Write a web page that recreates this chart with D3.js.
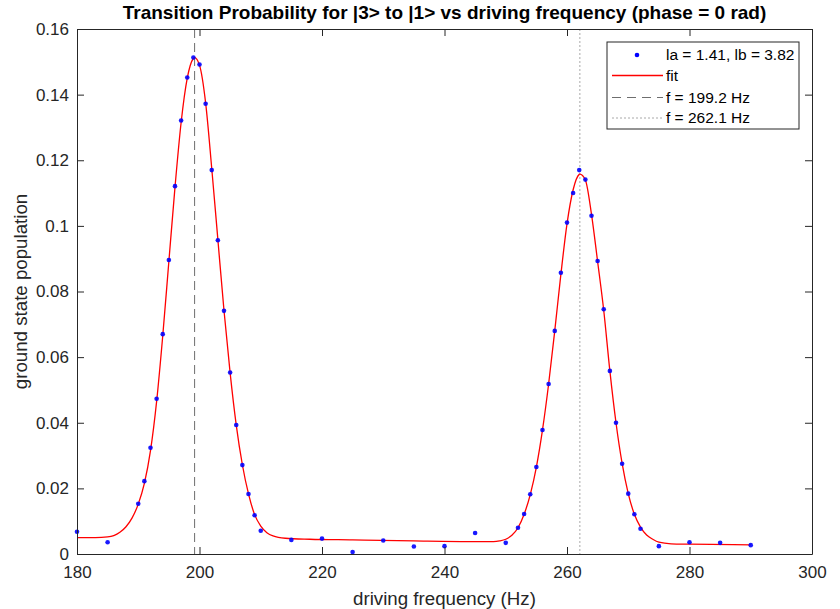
<!DOCTYPE html>
<html>
<head>
<meta charset="utf-8">
<script src="https://cdn.jsdelivr.net/npm/d3@7"></script>
<style>
  body { margin: 0; background: #fff; }
  text { font-family: "Liberation Sans", Arial, sans-serif; }
</style>
</head>
<body>
<svg id="chart" width="840" height="609"></svg>
<script>

// measured points
var freqs = [180, 185, 190, 191, 192, 193, 194, 195, 196, 197, 198, 199, 200, 201, 202, 203, 204, 205, 206, 207, 208, 209, 210,
             215, 220, 225, 230, 235, 240, 245, 250,
             252, 253, 254, 255, 256, 257, 258, 259, 260, 261, 262, 263, 264, 265, 266, 267, 268, 269, 270, 271, 272,
             275, 280, 285, 290];
var pops = [0.0068, 0.0036, 0.0153, 0.0222, 0.0324, 0.0473, 0.0670, 0.0896, 0.1121, 0.1321, 0.1452, 0.1513, 0.1492, 0.1372, 0.1170, 0.0956, 0.0741, 0.0553, 0.0393, 0.0271, 0.0183, 0.0118, 0.0071,
            0.0043, 0.0047, 0.0006, 0.0041, 0.0023, 0.0024, 0.0064, 0.0034,
            0.0080, 0.0122, 0.0182, 0.0265, 0.0378, 0.0518, 0.0680, 0.0857, 0.1010, 0.1100, 0.1170, 0.1141, 0.1031, 0.0893, 0.0746, 0.0558, 0.0400, 0.0275, 0.0184, 0.0121, 0.0077,
            0.0024, 0.0036, 0.0034, 0.0027];

// fit curve
var fitX = [180, 183, 185, 186, 187, 188, 189, 190, 191, 192, 193, 194, 195, 196, 197, 198, 199, 199.2, 200, 201, 202, 203, 204, 205, 206, 207, 208, 209, 210, 211, 212, 214, 218, 225, 235, 245, 248, 249, 250, 251, 252, 253, 254, 255, 256, 257, 258, 259, 260, 261, 262, 262.1, 263, 264, 265, 266, 267, 268, 269, 270, 271, 272, 273, 274, 275, 277, 280, 290];
var fitY = [0.0050, 0.0050, 0.0052, 0.0056, 0.0066, 0.0083, 0.0110, 0.0152, 0.0215, 0.0315, 0.0465, 0.0665, 0.0892, 0.1118, 0.1315, 0.1450, 0.1510, 0.1513, 0.1490, 0.1375, 0.1175, 0.0958, 0.0742, 0.0552, 0.0393, 0.0272, 0.0183, 0.0120, 0.0085, 0.0065, 0.0055, 0.0048, 0.0045, 0.0043, 0.0040, 0.0038, 0.0038, 0.0040, 0.0045, 0.0057, 0.0080, 0.0121, 0.0181, 0.0265, 0.0378, 0.0518, 0.0680, 0.0852, 0.1006, 0.1110, 0.1157, 0.1158, 0.1140, 0.1035, 0.0891, 0.0742, 0.0558, 0.0400, 0.0276, 0.0184, 0.0121, 0.0082, 0.0058, 0.0045, 0.0036, 0.0031, 0.0030, 0.0028];

var peakFreqs = [199.2, 262.1];
var xTicks = [180, 200, 220, 240, 260, 280, 300];
var yTicks = [0, 0.02, 0.04, 0.06, 0.08, 0.1, 0.12, 0.14, 0.16];
var legendLabels = ["la = 1.41, lb = 3.82", "fit", "f = 199.2 Hz", "f = 262.1 Hz"];

var pLeft = 77, pRight = 812, pTop = 29, pBottom = 554;
var axisCol = "#262626";

var svg = d3.select("#chart");

var x = d3.scaleLinear().domain([180, 300]).range([pLeft, pRight]);
var y = d3.scaleLinear().domain([0, 0.16]).range([pBottom, pTop]);

// vertical lines at resonances
svg.append("line")
    .attr("x1", x(peakFreqs[0])).attr("x2", x(peakFreqs[0]))
    .attr("y1", pTop).attr("y2", pBottom)
    .attr("stroke", "#6e6e6e").attr("stroke-width", 1)
    .attr("stroke-dasharray", "9,5");
svg.append("line")
    .attr("x1", x(peakFreqs[1])).attr("x2", x(peakFreqs[1]))
    .attr("y1", pTop).attr("y2", pBottom)
    .attr("stroke", "#a8a8a8").attr("stroke-width", 1)
    .attr("stroke-dasharray", "2,2");

// fit
var fitData = fitX.map(function(d, i) { return [d, fitY[i]]; });
var line = d3.line()
    .x(function(d) { return x(d[0]); })
    .y(function(d) { return y(d[1]); })
    .curve(d3.curveMonotoneX);
svg.append("path")
    .datum(fitData)
    .attr("d", line)
    .attr("fill", "none")
    .attr("stroke", "#ff0000")
    .attr("stroke-width", 1.3);

// points
svg.selectAll(".pt")
    .data(freqs)
  .enter().append("circle")
    .attr("class", "pt")
    .attr("cx", function(d) { return x(d); })
    .attr("cy", function(d, i) { return y(pops[i]); })
    .attr("r", 2.3)
    .attr("fill", "#0000ff")
    .attr("fill-opacity", 0.9);

// axes, matlab style: ticks inside, box all round
var fmtY = function(d) { return d === 0 ? "0" : String(+d.toFixed(2)); };

function styleAxis(g) {
  g.select(".domain").attr("stroke", axisCol);
  g.selectAll(".tick line").attr("stroke", axisCol);
  g.selectAll(".tick text").attr("fill", axisCol).style("font-size", "17px")
    .style("font-family", "'Liberation Sans', Arial, sans-serif");
}

svg.append("g")
    .attr("transform", "translate(0," + pBottom + ")")
    .call(d3.axisBottom(x).tickValues(xTicks).tickSizeInner(-7).tickSizeOuter(0).tickPadding(12))
    .call(styleAxis);
svg.append("g")
    .attr("transform", "translate(0," + pTop + ")")
    .call(d3.axisTop(x).tickValues(xTicks).tickSizeInner(-7).tickSizeOuter(0).tickFormat(""))
    .call(styleAxis);
svg.append("g")
    .attr("transform", "translate(" + pLeft + ",0)")
    .call(d3.axisLeft(y).tickValues(yTicks).tickFormat(fmtY).tickSizeInner(-7).tickSizeOuter(0).tickPadding(8))
    .call(styleAxis);
svg.append("g")
    .attr("transform", "translate(" + pRight + ",0)")
    .call(d3.axisRight(y).tickValues(yTicks).tickSizeInner(-7).tickSizeOuter(0).tickFormat(""))
    .call(styleAxis);

// titles
svg.append("text")
    .attr("x", (pLeft + pRight) / 2).attr("y", 19)
    .attr("text-anchor", "middle")
    .style("font-size", "19px").style("font-weight", "bold")
    .attr("fill", "#000")
    .text("Transition Probability for |3> to |1> vs driving frequency (phase = 0 rad)");

svg.append("text")
    .attr("x", (pLeft + pRight) / 2).attr("y", 605)
    .attr("text-anchor", "middle")
    .style("font-size", "18.7px")
    .attr("fill", axisCol)
    .text("driving frequency (Hz)");

svg.append("text")
    .attr("transform", "translate(27," + ((pTop + pBottom) / 2) + ") rotate(-90)")
    .attr("text-anchor", "middle")
    .style("font-size", "18.7px")
    .attr("fill", axisCol)
    .text("ground state population");

// legend
var lg = svg.append("g").attr("transform", "translate(607,42)");
lg.append("rect")
    .attr("width", 192).attr("height", 87)
    .attr("fill", "#fff").attr("stroke", axisCol).attr("stroke-width", 1);

var rowY = [13, 33.5, 55.5, 76];
lg.append("circle").attr("cx", 30).attr("cy", rowY[0]).attr("r", 2.3).attr("fill", "#0000ff");
lg.append("line").attr("x1", 5).attr("x2", 56).attr("y1", rowY[1]).attr("y2", rowY[1])
    .attr("stroke", "#ff0000").attr("stroke-width", 1.3);
lg.append("line").attr("x1", 5).attr("x2", 56).attr("y1", rowY[2]).attr("y2", rowY[2])
    .attr("stroke", "#6e6e6e").attr("stroke-dasharray", "9,6");
lg.append("line").attr("x1", 5).attr("x2", 56).attr("y1", rowY[3]).attr("y2", rowY[3])
    .attr("stroke", "#a8a8a8").attr("stroke-dasharray", "2,2");

lg.selectAll(".lt")
    .data(legendLabels)
  .enter().append("text")
    .attr("class", "lt")
    .attr("x", 59)
    .attr("y", function(d, i) { return rowY[i]; })
    .attr("dy", "0.35em")
    .style("font-size", "15.5px")
    .attr("fill", "#000")
    .text(function(d) { return d; });

</script>
</body>
</html>
